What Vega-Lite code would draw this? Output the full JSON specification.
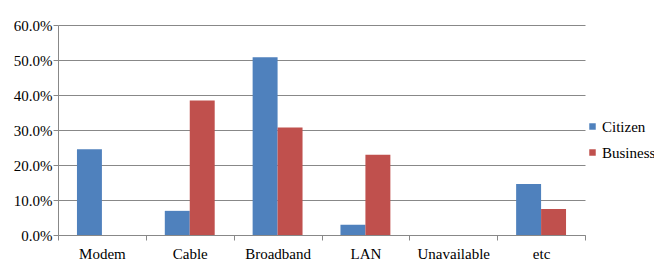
{
  "$schema": "https://vega.github.io/schema/vega-lite/v6.json",
  "width": 527,
  "height": 210,
  "autosize": "none",
  "padding": {"left": 58, "top": 25, "right": 69, "bottom": 32},
  "background": "white",
  "config": {
    "view": {"stroke": null},
    "font": "Liberation Serif"
  },
  "data": {
    "values": [
      {"category": "Modem", "series": "Citizen", "value": 0.245},
      {"category": "Modem", "series": "Business", "value": 0},
      {"category": "Cable", "series": "Citizen", "value": 0.069},
      {"category": "Cable", "series": "Business", "value": 0.384},
      {"category": "Broadband", "series": "Citizen", "value": 0.508},
      {"category": "Broadband", "series": "Business", "value": 0.307},
      {"category": "LAN", "series": "Citizen", "value": 0.029},
      {"category": "LAN", "series": "Business", "value": 0.229},
      {"category": "Unavailable", "series": "Citizen", "value": 0},
      {"category": "Unavailable", "series": "Business", "value": 0},
      {"category": "etc", "series": "Citizen", "value": 0.146},
      {"category": "etc", "series": "Business", "value": 0.074}
    ]
  },
  "mark": {"type": "bar"},
  "encoding": {
    "x": {
      "field": "category",
      "type": "nominal",
      "sort": null,
      "scale": {"paddingInner": 0, "paddingOuter": 0},
      "axis": {
        "title": null,
        "labelAngle": 0,
        "labelFont": "Liberation Serif",
        "labelFontSize": 15,
        "labelColor": "black",
        "labelPadding": 6,
        "tickBand": "extent",
        "tickSize": 5,
        "tickColor": "#888888",
        "domainColor": "#888888",
        "grid": false
      }
    },
    "xOffset": {
      "field": "series",
      "type": "nominal",
      "scale": {"domain": ["Citizen", "Business"], "paddingInner": 0, "paddingOuter": 0.76}
    },
    "y": {
      "field": "value",
      "type": "quantitative",
      "scale": {"domain": [0, 0.6], "nice": false},
      "axis": {
        "title": null,
        "format": ".1%",
        "values": [0, 0.1, 0.2, 0.3, 0.4, 0.5, 0.6],
        "labelFont": "Liberation Serif",
        "labelFontSize": 15,
        "labelColor": "black",
        "labelPadding": 1,
        "tickSize": 5,
        "tickColor": "#888888",
        "domainColor": "#888888",
        "gridColor": "#888888",
        "grid": true
      }
    },
    "color": {
      "field": "series",
      "type": "nominal",
      "scale": {"domain": ["Citizen", "Business"], "range": ["#4F81BD", "#C0504D"]},
      "legend": {
        "title": null,
        "orient": "none",
        "legendX": 527,
        "legendY": 94,
        "padding": 0,
        "symbolType": "square",
        "symbolSize": 42,
        "symbolStrokeWidth": 0,
        "symbolOpacity": 1,
        "labelFont": "Liberation Serif",
        "labelFontSize": 15,
        "labelColor": "black",
        "labelOffset": 2,
        "labelLimit": 200,
        "rowPadding": 10
      }
    }
  }
}
